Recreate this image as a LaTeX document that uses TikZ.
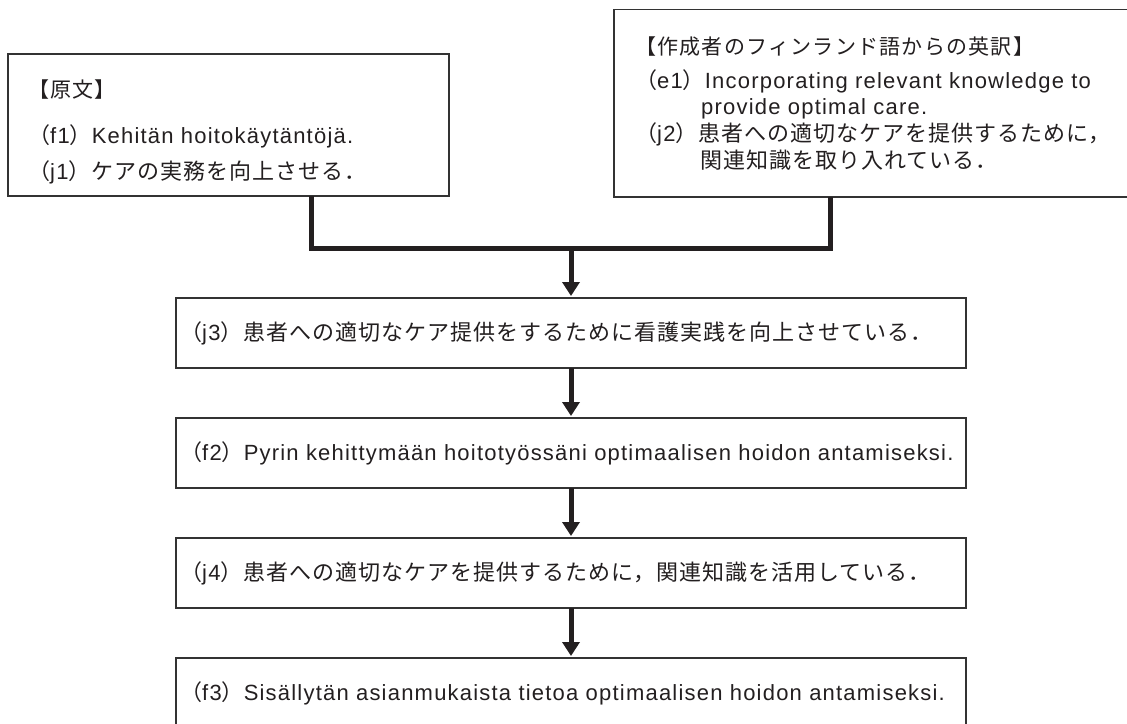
\documentclass[tikz,border=0pt]{standalone}
\usepackage{fontspec}
\setmainfont{Liberation Sans}[LetterSpace=5.5]
\newfontfamily\jpf{Noto Sans CJK JP}[LetterSpace=4.5]
\newfontfamily\jph{Noto Sans CJK JP}[LetterSpace=6]
\usetikzlibrary{arrows.meta}
\definecolor{ink}{HTML}{231F20}
\newcommand\J[1]{{\jpf\fontsize{22pt}{26pt}\selectfont #1}}
\newcommand\Jh[1]{{\jph\fontsize{21pt}{26pt}\selectfont #1}}
\begin{document}
\begin{tikzpicture}[x=1pt,y=-1pt,
  box/.style={draw=black!80, line width=1.1pt, rectangle, inner sep=0pt, outer sep=0pt},
  txt/.style={anchor=base west, inner sep=0pt, text=ink, font=\fontsize{22pt}{26pt}\selectfont},
  conn/.style={draw=ink, line width=5pt, line join=miter},
  arr/.style={conn, -{Triangle[width=17pt,length=14pt]}, shorten >=2pt}]
\useasboundingbox (0,0) rectangle (1127,723);
\clip (0,0) rectangle (1127,723);
\fill[white] (0,0) rectangle (1127,723);
% boxes
\node[box, minimum width=441pt, minimum height=142pt] (L) at (228.5,125) {};
\node[box, minimum width=526pt, minimum height=187.5pt] (R) at (877,103.25) {};
\node[box, minimum width=790pt, minimum height=70pt] (j3) at (571,333) {};
\node[box, minimum width=790pt, minimum height=70pt] (f2) at (571,453) {};
\node[box, minimum width=790pt, minimum height=70pt] (j4) at (571,573) {};
\node[box, minimum width=790pt, minimum height=70pt] (f3) at (571,693) {};
% texts
\node[txt] (Lh) at (28,97) {\Jh{【原文】}};
\node[txt] (Lf) at (28,143) {\J{（}f1\J{）}Kehitän hoitokäytäntöjä.};
\node[txt] (Lj) at (28,179) {\J{（}j1\J{）ケアの実務を向上させる．}};
\node[txt] (Rh) at (635,54) {\Jh{【作成者のフィンランド語からの英訳】}};
\node[txt] (Re1) at (635,88) {\J{（}e1\J{）}Incorporating relevant knowledge to};
\node[txt] (Re2) at (701,114) {provide optimal care.};
\node[txt] (Rj1) at (635,141) {\J{（}j2\J{）患者への適切なケアを提供するために，}};
\node[txt] (Rj2) at (700,168) {\J{関連知識を取り入れている．}};
\node[txt] (t3) at (180,340) {\J{（}j3\J{）患者への適切なケア提供をするために看護実践を向上させている．}};
\node[txt] (t4) at (180,460) {\J{（}f2\J{）}Pyrin kehittymään hoitotyössäni optimaalisen hoidon antamiseksi.};
\node[txt] (t5) at (180,580) {\J{（}j4\J{）患者への適切なケアを提供するために，関連知識を活用している．}};
\node[txt] (t6) at (180,700) {\J{（}f3\J{）}Sisällytän asianmukaista tietoa optimaalisen hoidon antamiseksi.};
% connectors
\coordinate (lx) at (311.7,0);
\coordinate (rx) at (830,0);
\coordinate (jn) at (571,248);
\draw[conn] (L.south -| lx) |- (jn) -| (R.south -| rx);
\draw[arr] (jn) -- (j3);
\draw[arr] (j3) -- (f2);
\draw[arr] (f2) -- (j4);
\draw[arr] (j4) -- (f3);
\end{tikzpicture}
\end{document}
